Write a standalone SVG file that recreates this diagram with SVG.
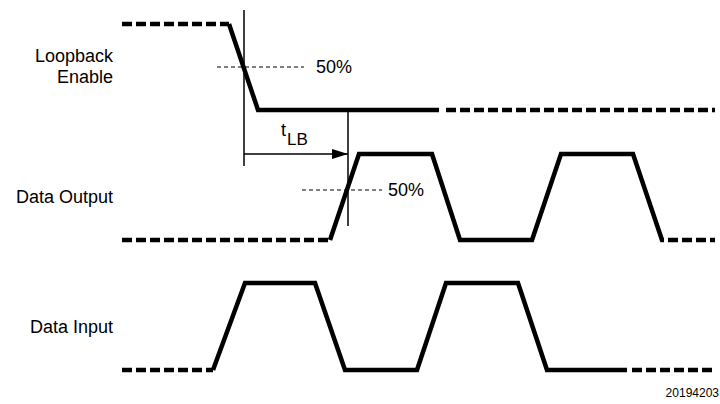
<svg xmlns="http://www.w3.org/2000/svg" width="720" height="404" viewBox="0 0 720 404">
<defs>
<style>
text{font-family:"Liberation Sans",Arial,sans-serif;fill:#000}
.lbl{font-size:18px;text-anchor:end}
.pct{font-size:18px}
.sig{fill:none;stroke:#000;stroke-width:4.5;stroke-linejoin:miter}
.dsh{fill:none;stroke:#000;stroke-width:4.5;stroke-dasharray:10 4}
.thin{fill:none;stroke:#000;stroke-width:1.5}
.ref{fill:none;stroke:#000;stroke-width:1.2;stroke-dasharray:4 3}
</style>
<marker id="ah" markerWidth="16" markerHeight="10" refX="16" refY="5" orient="auto" markerUnits="userSpaceOnUse">
<path d="M0,0 L16,5 L0,10 Z" fill="#000"/>
</marker>
</defs>
<rect width="720" height="404" fill="#fff"/>
<g id="loopback-enable">
<text class="lbl" x="113" y="62">Loopback</text>
<text class="lbl" x="113" y="83">Enable</text>
<path class="dsh" d="M122,24 H229"/>
<path class="sig" d="M229,24 L258,110 H439"/>
<path class="dsh" d="M446,110 H715"/>
</g>
<g id="data-output">
<text class="lbl" x="113" y="203">Data Output</text>
<path class="dsh" d="M122,240 H330"/>
<path class="sig" d="M330,240 L359,154 H432 L460,240 H532 L561,154 H633 L662,240 H664"/>
<path class="dsh" d="M668,240 H715"/>
</g>
<g id="data-input">
<text class="lbl" x="113" y="333">Data Input</text>
<path class="dsh" d="M122,370 H213"/>
<path class="sig" d="M213,370 L245,283 H315 L345,370 H417 L446,283 H518 L547,370 H627"/>
<path class="dsh" d="M632,370 H715"/>
</g>
<g id="connectors">
<path class="thin" d="M244,10 V166"/>
<path class="thin" d="M348,110 V226"/>
<path class="thin" d="M244,154 H348" marker-end="url(#ah)"/>
<path class="ref" d="M217,67 H304"/>
<path class="ref" d="M302,190 H382"/>
</g>
<g id="annotations">
<text class="pct" x="316" y="73">50%</text>
<text class="pct" x="388" y="196">50%</text>
<text x="281" y="136" font-size="18">t</text>
<text x="287" y="145" font-size="17">LB</text>
<text x="719" y="397" font-size="12" text-anchor="end">20194203</text>
</g>
</svg>
